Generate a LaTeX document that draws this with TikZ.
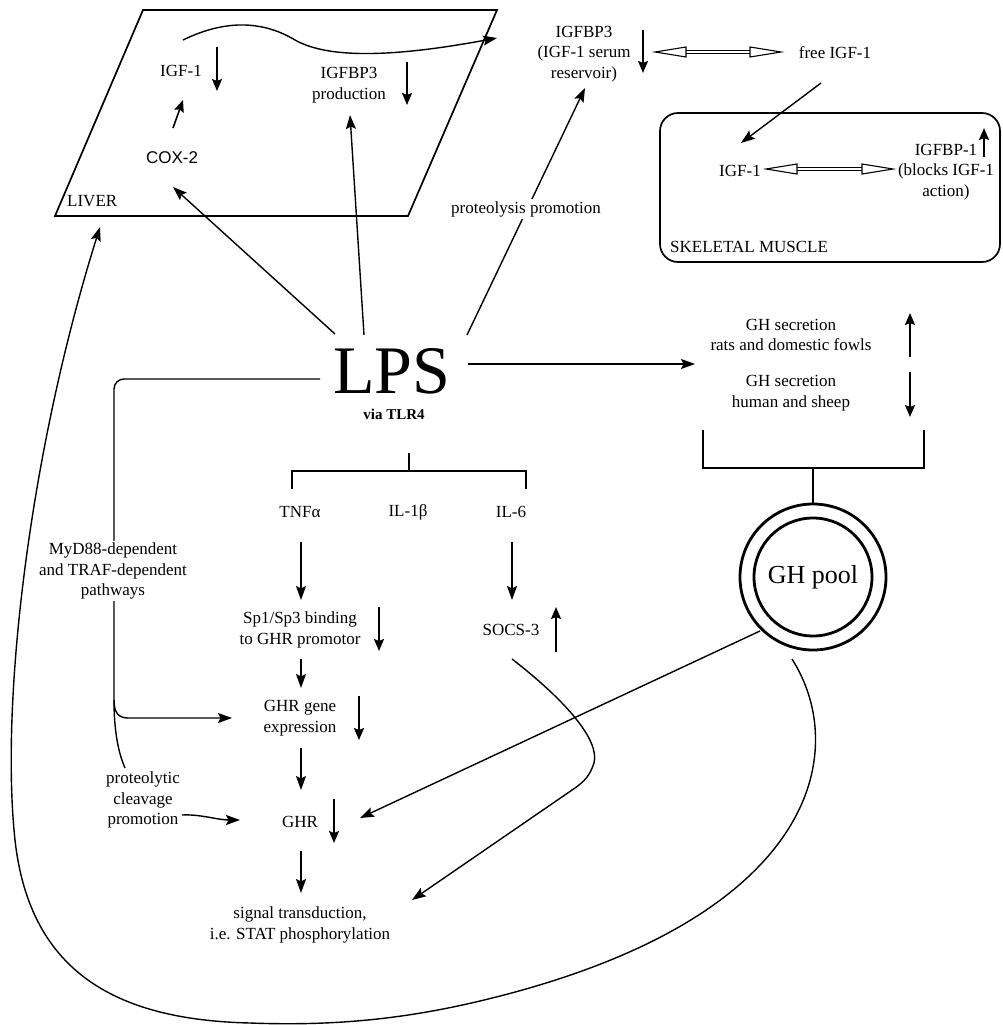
\documentclass[tikz,border=0pt]{standalone}
\usepackage{fontspec}
\setmainfont{Liberation Serif}
\newfontfamily\arialf{Liberation Sans}
\usetikzlibrary{arrows.meta}
\begin{document}
\begin{tikzpicture}[x=1pt,y=-1pt,
  txt/.style={font=\fontsize{17}{20.5}\selectfont, align=center, inner sep=1pt},
  conn/.style={line width=1.4pt, -{Stealth[length=14pt,width=10pt,inset=2.5pt]}},
  ind/.style={line width=2pt, -{Stealth[length=12pt,width=10pt,inset=2pt]}},
  plain/.style={line width=1.4pt},
  frame/.style={line width=1.7pt},
  ring/.style={circle, draw, line width=2.8pt, inner sep=0pt},
  openhead/.style={line width=1.1pt, fill=white, line join=miter},
  shaft/.style={line width=0.9pt}
]
\useasboundingbox (0,0) rectangle (1003,1025);

% ---------- containers ----------
\draw[frame] (143,10) -- (497,10) -- (408,216) -- (55,216) -- cycle;
\draw[frame, rounded corners=18pt] (660,113) rectangle (1000,262);

% ---------- text nodes ----------
\node[txt, anchor=west] (liver) at (66,201) {LIVER};
\node[txt] (igfL) at (181,71) {IGF-1};
\node[txt, font=\arialf\fontsize{17}{20}\selectfont] (cox) at (172,158) {COX-2};
\node[txt] (igfbpP) at (349,85) {IGFBP3\\production};
\node[txt] (igfbpR) at (584,54) {IGFBP3\\(IGF-1 serum\\reservoir)};
\node[txt] (freeigf) at (835,53) {free IGF-1};
\node[txt] (igfM) at (740,171) {IGF-1};
\node[txt] (igfbp1) at (946,172) {IGFBP-1\\(blocks IGF-1\\action)};
\node[txt, anchor=west] (skm) at (669,247) {SKELETAL MUSCLE};
\node[font=\fontsize{68}{78}\selectfont, inner sep=0pt, text height=45pt, text depth=0pt] (lps) at (392,371) {LPS};
\node[font=\bfseries\fontsize{15}{18}\selectfont, inner sep=0pt] (via) at (394,414) {via TLR4};
\node[txt] (ghs1) at (791,335) {GH secretion\\rats and domestic fowls};
\node[txt] (ghs2) at (791,393) {GH secretion\\human and sheep};
\node[txt] (tnf) at (300,512) {TNFα};
\node[txt] (il1) at (408,512) {IL-1β};
\node[txt] (il6) at (511,512) {IL-6};
\node[txt] (sp) at (300,630) {Sp1/Sp3 binding\\to GHR promotor};
\node[txt] (gene) at (300,718) {GHR gene\\expression};
\node[txt] (ghr) at (300,822) {GHR};
\node[txt] (sig) at (300,925) {signal transduction,\\i.e. STAT phosphorylation};
\node[txt] (socs) at (511,630) {SOCS-3};
\node[txt] (pcp) at (143,800) {proteolytic\\cleavage\\promotion};

% ---------- GH pool ----------
\node[ring, minimum size=146pt] (pool) at (813,577) {};
\node[ring, minimum size=118pt, font=\fontsize{26}{30}\selectfont] (poolin) at (813,577) {GH pool};

% ---------- coordinates ----------
\coordinate (wS) at (183,40);  \coordinate (wE) at (497,38);
\coordinate (lpsCox) at (335,334); \coordinate (coxT) at (173,187);
\coordinate (lpsPr) at (364,335);  \coordinate (prT) at (350,115);
\coordinate (lpsRes) at (467,335); \coordinate (resT) at (585,88);
\coordinate (lpsGH) at (468,364);  \coordinate (ghT) at (695,364);
\coordinate (lpsL) at (320,379);
\coordinate (myV) at (114,700);
\coordinate (geneL) at (232,718);
\coordinate (myEnd) at (125,768);
\coordinate (pcpS) at (182,815); \coordinate (ghrL) at (240,820);
\coordinate (poolA) at (760,631); \coordinate (ghrR) at (360,818);
\coordinate (socsS) at (512,659); \coordinate (sigR) at (412,900);
\coordinate (poolB) at (792,659); \coordinate (liverT) at (100,227);
\coordinate (freeS) at (821,83); \coordinate (igfMT) at (741,143);

% ---------- liver internal ----------
\draw[conn] (wS) .. controls (228,18) and (265,22) .. (295,40)
            .. controls (330,60) and (400,56) .. (wE);
\draw[ind] (217,47) -- (217,91);
\draw[ind, line width=1.6pt] (173,128) -- (183,100);
\draw[ind] (407,62) -- (407,105);

% ---------- arrows from LPS ----------
\draw[conn] (lpsCox) -- (coxT);
\draw[conn] (lpsPr) -- (prT);
\draw[conn] (lpsRes) -- (resT);
\draw[conn] (lpsGH) -- (ghT);

% ---------- serum / muscle ----------
\draw[ind] (643,30) -- (643,73);
% double open arrow 1
\draw[shaft] (684,50.5) -- (752,50.5);
\draw[shaft] (684,53.5) -- (752,53.5);
\draw[openhead] (655,52) -- (686,47) -- (686,57) -- cycle;
\draw[openhead] (781,52) -- (750,47) -- (750,57) -- cycle;
\draw[conn] (freeS) -- (igfMT);
% double open arrow 2
\draw[shaft] (795,167.5) -- (864,167.5);
\draw[shaft] (795,170.5) -- (864,170.5);
\draw[openhead] (766,169) -- (797,164) -- (797,174) -- cycle;
\draw[openhead] (893,169) -- (862,164) -- (862,174) -- cycle;
\draw[ind] (984,157) -- (984,128);

% ---------- GH secretion ----------
\draw[ind] (910,357) -- (910,313);
\draw[ind] (910,372) -- (910,417);
\draw[plain] (703,430) -- (703,468) -- (924,468) -- (924,430);
\draw[plain] (813,468) -- (pool.north);

% ---------- cytokines ----------
\draw[plain] (409,453) -- (409,471);
\draw[plain] (292,489) -- (292,471) -- (526,471) -- (526,489);
\draw[conn] (301,542) -- (301,600);
\draw[ind] (379,607) -- (379,651);
\draw[conn] (301,659) -- (301,688);
\draw[ind] (359,696) -- (359,740);
\draw[conn] (301,748) -- (301,790);
\draw[ind] (334,799) -- (334,843);
\draw[conn] (301,851) -- (301,893);
\draw[conn] (512,542) -- (512,600);
\draw[ind] (556,652) -- (556,607);

% ---------- MyD88 path ----------
\draw[plain, rounded corners=10pt] (lpsL) -| (myV);
\draw[conn] (myV) .. controls (114,712) and (118,718) .. (128,718) -- (geneL);
\draw[plain] (myV) .. controls (114,730) and (118,752) .. (myEnd);
\draw[conn] (pcpS) .. controls (200,814) and (218,820) .. (ghrL);

% ---------- long connectors ----------
\draw[conn] (socsS) .. controls (565,700) and (600,740) .. (594,763)
            .. controls (590,775) and (585,781) .. (575,788) -- (sigR);
\draw[conn] (poolA) -- (ghrR);
\draw[conn] (poolB) .. controls (850,750) and (820,920) .. (480,1001)
            .. controls (400,1020) and (330,1026) .. (250,1023)
            .. controls (120,1020) and (30,975) .. (15,840)
            .. controls (0,700) and (30,450) .. (liverT);

% ---------- labels over lines ----------
\node[txt, fill=white, inner sep=2pt] (prot) at (526,209) {proteolysis promotion};
\node[txt, fill=white, inner sep=2pt] (myd) at (113,571) {MyD88-dependent\\and TRAF-dependent\\pathways};
\end{tikzpicture}
\end{document}
